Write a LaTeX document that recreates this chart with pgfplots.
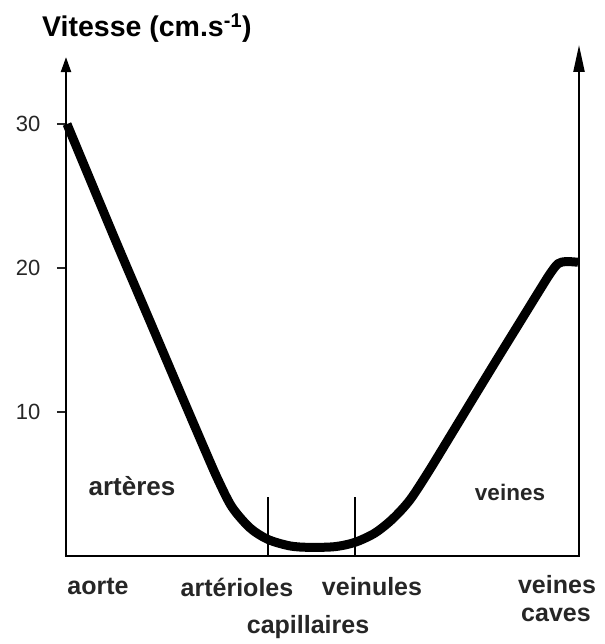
\documentclass[border=0pt]{standalone}
\usepackage{fontspec}
\setmainfont{Liberation Sans}
\usepackage{pgfplots}
\pgfplotsset{compat=1.18}
\usetikzlibrary{arrows.meta}
\definecolor{txt}{HTML}{262626}
\begin{document}
\begin{tikzpicture}
\path[use as bounding box] (0,0) rectangle (604pt,644pt);
\begin{axis}[
  at={(66pt,88pt)}, anchor=south west,
  scale only axis, width=513pt, height=511pt,
  xmin=66, xmax=579, ymin=0, ymax=35.49,
  axis line style={draw=none},
  xtick=\empty,
  ytick={10,20,30}, ytick pos=left,
  tick align=outside, major tick length=9pt,
  tick style={line width=1.4pt, color=txt},
  yticklabel style={font=\fontsize{22}{22}\selectfont, text=txt, xshift=-13pt},
  /pgf/number format/assume math mode=true,
  clip=false,
]
% axes
\draw[line width=2.2pt, -{Triangle[length=15pt,width=10pt]}] (axis cs:66,0) -- (axis cs:66,34.65);
\draw[line width=2.2pt, -{Triangle[length=27pt,width=11pt]}] (axis cs:579,0) -- (axis cs:579,35.49);
\draw[line width=2.6pt] (axis cs:65,0) -- (axis cs:580,0);
% vertical markers
\draw[line width=1.4pt] (axis cs:268,0) -- (axis cs:268,4.1);
\draw[line width=1.4pt] (axis cs:355,0) -- (axis cs:355,4.1);
% curve
\addplot[black, line width=9pt, smooth, tension=0.5, line cap=butt, line join=round] coordinates {
(67,30.0) (115,22.0) (150,16.3) (180,11.4) (205,7.35) (218,5.3)
(232,3.4) (250,1.95) (268,1.15) (290,0.7) (310,0.6) (335,0.65) (355,0.95) (375,1.6)
(393,2.6) (410,3.9) (428,5.8) (450,8.3) (478,11.5) (500,14.0) (520,16.25)
(540,18.5) (550,19.6) (558,20.3) (566,20.45) (578,20.4)
};
% labels
\node[font=\bfseries\fontsize{25}{25}\selectfont, text=txt] at (axis cs:98,-2.15) {aorte};
\node[font=\bfseries\fontsize{25}{25}\selectfont, text=txt] at (axis cs:237,-2.15) {artérioles};
\node[font=\bfseries\fontsize{25}{25}\selectfont, text=txt] at (axis cs:372,-2.15) {veinules};
\node[font=\bfseries\fontsize{25}{25}\selectfont, text=txt] at (axis cs:308,-4.93) {capillaires};
\node[font=\bfseries\fontsize{25}{25}\selectfont, text=txt] at (axis cs:557,-2.0) {veines};
\node[font=\bfseries\fontsize{25}{25}\selectfont, text=txt] at (axis cs:556,-4.1) {caves};
\node[font=\bfseries\fontsize{26}{26}\selectfont, text=txt] at (axis cs:132,4.86) {artères};
\node[font=\bfseries\fontsize{22.5}{22.5}\selectfont, text=txt] at (axis cs:510,4.38) {veines};
\node[font=\bfseries\fontsize{28.5}{28.5}\selectfont, anchor=west, inner sep=0pt] at (axis cs:42,36.67) {Vitesse (cm.s\textsuperscript{-1})};
\end{axis}
\end{tikzpicture}
\end{document}
